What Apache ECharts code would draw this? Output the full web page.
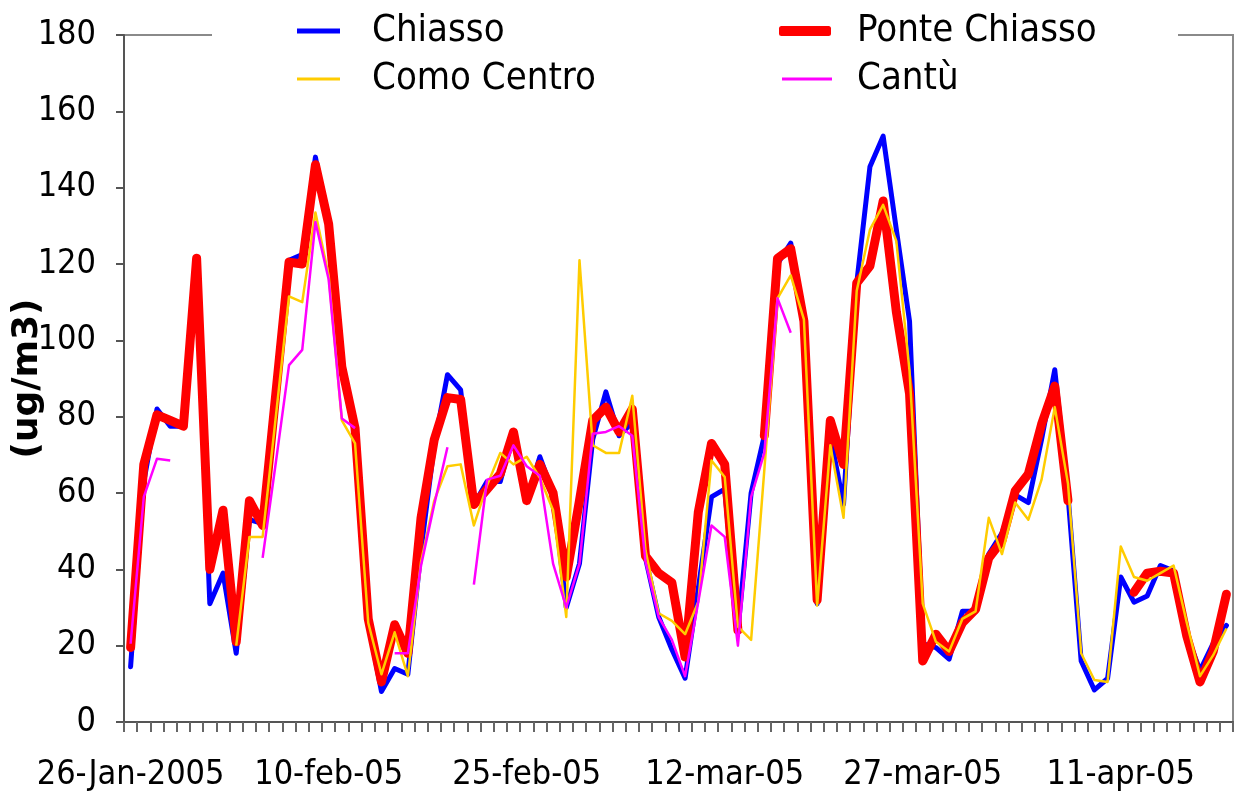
<!DOCTYPE html>
<html>
<head>
<meta charset="utf-8">
<script src="https://cdn.jsdelivr.net/npm/echarts@6/dist/echarts.min.js"></script>
<style>html,body{margin:0;padding:0;background:#fff}#c{width:1237px;height:799px}</style>
</head>
<body>
<div id="c"></div>
<script>
const categories = [
"26-Jan-2005","27-jan-05","28-jan-05","29-jan-05","30-jan-05","31-jan-05",
"1-feb-05","2-feb-05","3-feb-05","4-feb-05","5-feb-05","6-feb-05","7-feb-05","8-feb-05","9-feb-05","10-feb-05",
"11-feb-05","12-feb-05","13-feb-05","14-feb-05","15-feb-05","16-feb-05","17-feb-05","18-feb-05","19-feb-05","20-feb-05",
"21-feb-05","22-feb-05","23-feb-05","24-feb-05","25-feb-05","26-feb-05","27-feb-05","28-feb-05",
"1-mar-05","2-mar-05","3-mar-05","4-mar-05","5-mar-05","6-mar-05","7-mar-05","8-mar-05","9-mar-05","10-mar-05",
"11-mar-05","12-mar-05","13-mar-05","14-mar-05","15-mar-05","16-mar-05","17-mar-05","18-mar-05","19-mar-05","20-mar-05",
"21-mar-05","22-mar-05","23-mar-05","24-mar-05","25-mar-05","26-mar-05","27-mar-05","28-mar-05","29-mar-05","30-mar-05","31-mar-05",
"1-apr-05","2-apr-05","3-apr-05","4-apr-05","5-apr-05","6-apr-05","7-apr-05","8-apr-05","9-apr-05","10-apr-05",
"11-apr-05","12-apr-05","13-apr-05","14-apr-05","15-apr-05","16-apr-05","17-apr-05","18-apr-05","19-apr-05"
];
const tickLabels = ["26-Jan-2005","10-feb-05","25-feb-05","12-mar-05","27-mar-05","11-apr-05"];
const yTicks = [0,20,40,60,80,100,120,140,160,180];

const chiasso = [14.5,63,82,77.5,77.5,118,31,39,18,53,52,86,121,122.5,148,130,92,76,26,8,14,12.5,45,72.5,91,87,57,63,63,76,58,69.5,60,30,41.5,74,86.5,75,78.5,43,27.5,19,11.5,35,59,61,24,60,75,120,125.5,106,31,75,57,115,145.5,153.5,129,105,20.5,19.5,16.5,29,29,44,49.5,59.5,57.5,74,92.3,59.5,16,8.4,11.4,38,31.4,33,41,39.6,22.7,13.5,20.6,25.3];
const ponteChiasso = [19.5,67.5,80.5,79,77.5,121.5,40,55.5,21,58,51.5,86,120.5,120,146,130.5,93,77,27,10.5,25.5,18,53.5,74,85,84.5,57,61,65,76,58,67.5,60,38,58,79,82.5,76,82,43.5,39,36.5,17,55,73,67.5,24,null,75,121.5,124,105,32,79,67.5,115,119.5,136.5,107.5,86,16,23,18.5,26,29.5,43,47.5,60.5,65,78,88,58,null,null,null,null,34,39,39.5,39,22.5,10.5,18.5,33.5];
const comoCentro = [null,null,null,null,null,null,null,null,20,48.5,48.5,80,111.5,110,133.5,117,79,73,26,12.5,23.5,12,42,58,67,67.5,51.5,62,70.5,67.5,69.5,64,55.5,27.5,121,72.5,70.5,70.5,85.5,45,28.5,26.5,23,31.5,68.5,64.2,25,21.5,66,111,117,105.5,30.5,72.5,53.5,113,129,135.5,126,92,31,21,18.5,27,29,53.5,44,57.5,53,63.5,82.5,62.5,18,11,10.5,46,38,37,39,41,26,12,17.5,24.5];
const cantu = [20.5,59,69,68.5,null,null,null,null,null,null,43,68,93.5,97.5,131,116,79.5,77,null,null,18,18,41,57,72,null,36,63.5,64.5,72.5,67,64.5,41.5,30,41.5,75.5,76,77.5,75,42,27.5,21.5,12,31.5,51.5,48.5,20,59,70.5,111,102,null,null,null,null,null,null,null,null,null,null,null,null,null,null,null,null,null,null,null,null,null,null,null,null,null,null,null,null,null,null,null,null,null];

const FONT = "'DejaVu Sans Condensed','Liberation Sans',sans-serif";
const chart = echarts.init(document.getElementById('c'));

function mkLegend(name, left, top, w, h, icon, pad){
  return {
    data:[name], left:left, top:top, padding:0, selectedMode:false, z:6,
    icon:icon, itemWidth:w, itemHeight:h,
    textStyle:{fontFamily:FONT, fontSize:38, color:'#000', padding:[0,0,0,pad], lineHeight:42}
  };
}

chart.setOption({
  animation:false,
  backgroundColor:'#fff',
  grid:{left:124, right:4, top:35, bottom:77, show:true, borderColor:'#8a8a8a', borderWidth:2,
        backgroundColor:'transparent', outerBoundsMode:'none', containLabel:false},
  graphic:[{type:'rect', shape:{x:212, y:28, width:966, height:14}, style:{fill:'#fff'}, z:1}],
  legend:[
    mkLegend('Chiasso', 297, 10, 43, 5, 'rect', 27),
    mkLegend('Ponte Chiasso', 779, 10, 52, 10, 'roundRect', 21),
    mkLegend('Como Centro', 297, 58, 43, 3, 'rect', 27),
    mkLegend('Cantù', 782, 58, 50, 3, 'rect', 20)
  ],
  xAxis:{
    type:'category', data:categories, boundaryGap:true,
    axisLine:{lineStyle:{color:'#555', width:2}},
    axisTick:{show:true, interval:0, length:10, lineStyle:{color:'#666', width:2}},
    axisLabel:{interval:14, fontFamily:FONT, fontSize:34, color:'#000', margin:36, hideOverlap:false,
      formatter:function(v){ return tickLabels.indexOf(v) >= 0 ? v : ''; }},
    splitLine:{show:false}
  },
  yAxis:{
    type:'value', min:yTicks[0], max:yTicks[yTicks.length-1], interval:20,
    name:'(ug/m3)', nameLocation:'middle', nameGap:78, nameRotate:90, nameMoveOverlap:false,
    nameTextStyle:{fontFamily:"'DejaVu Sans',sans-serif", fontWeight:'bold', fontSize:36, color:'#000'},
    axisLine:{show:true, lineStyle:{color:'#555', width:2}},
    axisTick:{show:true, length:8, lineStyle:{color:'#555', width:2}},
    axisLabel:{fontFamily:FONT, fontSize:34, color:'#000', margin:28},
    splitLine:{show:false}
  },
  series:[
    {name:'Chiasso', type:'line', data:chiasso, showSymbol:false, connectNulls:false,
      lineStyle:{color:'#0000ff', width:5, cap:'round', join:'round'}, itemStyle:{color:'#0000ff'}},
    {name:'Ponte Chiasso', type:'line', data:ponteChiasso, showSymbol:false, connectNulls:false,
      lineStyle:{color:'#ff0000', width:9, cap:'round', join:'round'}, itemStyle:{color:'#ff0000'}},
    {name:'Como Centro', type:'line', data:comoCentro, showSymbol:false, connectNulls:false,
      lineStyle:{color:'#ffcc00', width:2.5, join:'round'}, itemStyle:{color:'#ffcc00'}},
    {name:'Cantù', type:'line', data:cantu, showSymbol:false, connectNulls:false,
      lineStyle:{color:'#ff00ff', width:2.5, join:'round'}, itemStyle:{color:'#ff00ff'}}
  ]
});
</script>
</body>
</html>
